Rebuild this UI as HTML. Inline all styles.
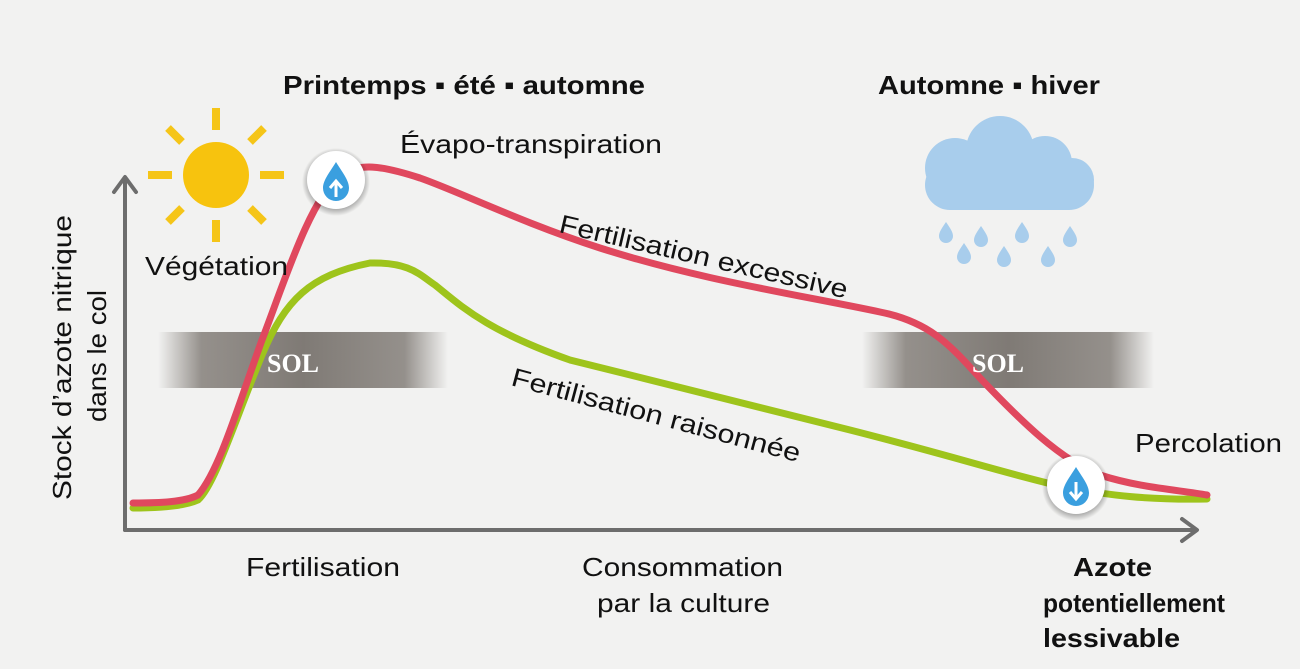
<!DOCTYPE html>
<html><head><meta charset="utf-8"><style>
html,body{margin:0;padding:0;background:#f2f2f1;}
svg{display:block;font-family:"Liberation Sans",sans-serif;}
</style></head><body>
<svg width="1300" height="669" viewBox="0 0 1300 669" xmlns="http://www.w3.org/2000/svg">
<defs>
<linearGradient id="sol" x1="0" x2="1">
<stop offset="0" stop-color="#8a8580" stop-opacity="0"/>
<stop offset="0.15" stop-color="#8a8580" stop-opacity="0.9"/>
<stop offset="0.5" stop-color="#7f7a75"/>
<stop offset="0.85" stop-color="#8a8580" stop-opacity="0.9"/>
<stop offset="1" stop-color="#8a8580" stop-opacity="0"/>
</linearGradient>
<radialGradient id="sh"><stop offset="0.75" stop-color="#000" stop-opacity="0.35"/><stop offset="1" stop-color="#000" stop-opacity="0"/></radialGradient>
</defs>
<rect width="1300" height="669" fill="#f2f2f1"/>
<rect x="158" y="332" width="290" height="56" fill="url(#sol)"/>
<rect x="862" y="332" width="292" height="56" fill="url(#sol)"/>
<g stroke="#6d6d6d" stroke-width="4" fill="none" stroke-linecap="round" stroke-linejoin="round">
<path d="M125 530 V178"/><path d="M114 192 L125 177 L136 192"/>
<path d="M125 530 H1196"/><path d="M1182 519 L1197 530 L1182 541"/>
</g>
<path d="M133 508 C160 508 185 506 198 500 C215 485 235 420 262 355 C285 300 310 275 370 263 C410 262 420 275 435 285 C460 305 485 330 570 360 C650 380 700 392 850 430 C960 458 1000 472 1060 486 C1110 496 1150 500 1207 499" fill="none" stroke="#9ec41c" stroke-width="7" stroke-linecap="round"/>
<path d="M133 503 C160 503 185 502 198 495 C220 470 240 400 262 340 C285 280 310 200 340 175 C360 163 380 165 420 178 C460 192 520 222 600 248 C700 280 800 295 880 312 C930 322 950 345 980 378 C1020 420 1060 460 1100 475 C1140 488 1180 490 1207 495" fill="none" stroke="#e0485e" stroke-width="7" stroke-linecap="round"/>
<text x="293" y="372" font-family="Liberation Serif,serif" font-weight="bold" font-size="26" fill="#fff" text-anchor="middle">SOL</text>
<text x="998" y="372" font-family="Liberation Serif,serif" font-weight="bold" font-size="26" fill="#fff" text-anchor="middle">SOL</text>
<circle cx="336" cy="182" r="34" fill="url(#sh)"/>
<circle cx="336" cy="180" r="29" fill="#fff"/>
<path d="M336 162 C330 172 323 180 323 188 A13 13 0 0 0 349 188 C349 180 342 172 336 162Z" fill="#3a9fdf"/>
<path d="M336 197 V183 M330 188 L336 181 L342 188" stroke="#fff" stroke-width="3" fill="none"/>
<circle cx="1076" cy="487" r="34" fill="url(#sh)"/>
<circle cx="1076" cy="485" r="29" fill="#fff"/>
<path d="M1076 467 C1070 477 1063 485 1063 493 A13 13 0 0 0 1089 493 C1089 485 1082 477 1076 467Z" fill="#3a9fdf"/>
<path d="M1076 482 V497 M1070 492 L1076 499 L1082 492" stroke="#fff" stroke-width="3" fill="none"/>
<g stroke="#f5c518" stroke-width="8" stroke-linecap="butt">
<path d="M216 108 V130 M216 220 V242 M148 175 H172 M260 175 H284 M168 128 L182 142 M250 208 L264 222 M264 128 L250 142 M182 208 L168 222"/>
</g>
<circle cx="216" cy="175" r="33" fill="#f7c30e"/>
<g fill="#a8cdec">
<circle cx="1000" cy="150" r="34"/><circle cx="955" cy="168" r="30"/><circle cx="1045" cy="163" r="27"/><circle cx="1072" cy="180" r="22"/>
<rect x="925" y="160" width="169" height="50" rx="25"/>
</g>
<g fill="#a8cdec">
<path d="M946 222 c-4 6 -7 10 -7 14 a7 7 0 0 0 14 0 c0 -4 -3 -8 -7 -14z"/>
<path d="M981 226 c-4 6 -7 10 -7 14 a7 7 0 0 0 14 0 c0 -4 -3 -8 -7 -14z"/>
<path d="M1022 222 c-4 6 -7 10 -7 14 a7 7 0 0 0 14 0 c0 -4 -3 -8 -7 -14z"/>
<path d="M1070 226 c-4 6 -7 10 -7 14 a7 7 0 0 0 14 0 c0 -4 -3 -8 -7 -14z"/>
<path d="M964 243 c-4 6 -7 10 -7 14 a7 7 0 0 0 14 0 c0 -4 -3 -8 -7 -14z"/>
<path d="M1004 246 c-4 6 -7 10 -7 14 a7 7 0 0 0 14 0 c0 -4 -3 -8 -7 -14z"/>
<path d="M1048 246 c-4 6 -7 10 -7 14 a7 7 0 0 0 14 0 c0 -4 -3 -8 -7 -14z"/>
</g>
<g fill="#111" font-size="26" lengthAdjust="spacingAndGlyphs">
<text x="283" y="94" font-weight="bold" textLength="362" lengthAdjust="spacingAndGlyphs">Printemps ▪ été ▪ automne</text>
<text x="878" y="94" font-weight="bold" textLength="222" lengthAdjust="spacingAndGlyphs">Automne ▪ hiver</text>
<text x="400" y="153" textLength="262" lengthAdjust="spacingAndGlyphs">Évapo-transpiration</text>
<text x="145" y="275" textLength="143" lengthAdjust="spacingAndGlyphs">Végétation</text>
<text x="558" y="232" transform="rotate(13 558 232)" textLength="295" lengthAdjust="spacingAndGlyphs">Fertilisation excessive</text>
<text x="510" y="385" transform="rotate(15 510 385)" textLength="298" lengthAdjust="spacingAndGlyphs">Fertilisation raisonnée</text>
<text x="1135" y="452" textLength="147" lengthAdjust="spacingAndGlyphs">Percolation</text>
<text x="246" y="576" textLength="154" lengthAdjust="spacingAndGlyphs">Fertilisation</text>
<text x="582" y="576" textLength="201" lengthAdjust="spacingAndGlyphs">Consommation</text>
<text x="597" y="612" textLength="173" lengthAdjust="spacingAndGlyphs">par la culture</text>
<text x="1073" y="576" font-weight="bold" textLength="79" lengthAdjust="spacingAndGlyphs">Azote</text>
<text x="1043" y="612" font-weight="bold" textLength="182" lengthAdjust="spacingAndGlyphs">potentiellement</text>
<text x="1043" y="647" font-weight="bold" textLength="137" lengthAdjust="spacingAndGlyphs">lessivable</text>
<text transform="translate(71 500) rotate(-90)" textLength="285" lengthAdjust="spacingAndGlyphs">Stock d’azote nitrique</text>
<text transform="translate(106 422) rotate(-90)" textLength="132" lengthAdjust="spacingAndGlyphs">dans le col</text>
</g>
</svg>
</body></html>
